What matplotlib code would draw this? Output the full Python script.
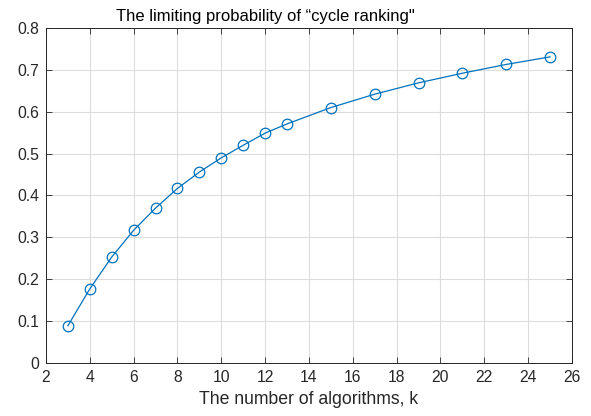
import matplotlib
matplotlib.use("Agg")
import matplotlib.pyplot as plt

plt.rcParams['font.family'] = ['Liberation Sans', 'DejaVu Sans']

# number of algorithms and limiting probability of a cycle ranking
k_values = [3, 4, 5, 6, 7, 8, 9, 10, 11, 12, 13, 15, 17, 19, 21, 23, 25]
prob = [0.089, 0.177, 0.253, 0.317, 0.370, 0.417, 0.456, 0.490, 0.520,
        0.549, 0.571, 0.610, 0.642, 0.669, 0.692, 0.713, 0.731]

x_ticks = list(range(2, 27, 2))
y_ticks = [0, 0.1, 0.2, 0.3, 0.4, 0.5, 0.6, 0.7, 0.8]

fig = plt.figure(figsize=(5.91, 4.16), dpi=100)
ax = fig.add_axes([0.0778, 0.1274, 0.8900, 0.8053])

ax.plot(k_values, prob, color='#0072BD', linewidth=0.9, marker='o',
        markersize=7.6, markerfacecolor='none', markeredgecolor='#0072BD',
        markeredgewidth=0.9)

ax.set_xlim(2, 26)
ax.set_ylim(0, 0.8)
ax.set_xticks(x_ticks)
ax.set_yticks(y_ticks)
ax.set_yticklabels(['0', '0.1', '0.2', '0.3', '0.4', '0.5', '0.6', '0.7', '0.8'])

ax.grid(True, color='#dcdcdc', linewidth=0.8)
ax.set_axisbelow(True)
ax.tick_params(direction='in', top=True, right=True, length=4, width=0.6,
               colors='#262626', labelsize=11.3, pad=5)
for sp in ax.spines.values():
    sp.set_color('#262626')
    sp.set_linewidth(0.7)

ax.set_xlabel('The number of algorithms, k', fontsize=12.7, color='#262626', labelpad=4)
ax.set_title('The limiting probability of \u201ccycle ranking"', fontsize=12,
             color='#000000', pad=5, x=0.418)

fig.savefig('out.png', dpi=100)
